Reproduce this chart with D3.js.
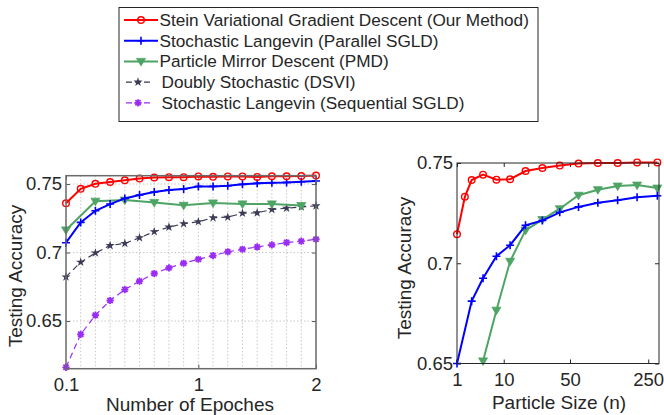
<!DOCTYPE html>
<html>
<head>
<meta charset="utf-8">
<script src="https://cdn.jsdelivr.net/npm/d3@7"></script>
<style>
body { margin: 0; background: #fff; }
text { font-family: "Liberation Sans", Arial, Helvetica, sans-serif; fill: #262626; }
</style>
</head>
<body>
<script>
// ---- left panel: testing accuracy vs. number of epoches ----
// x is the sample index, the axis is labelled 0.1 ... 1 ... 2
var epochIdx = [0, 1, 2, 3, 4, 5, 6, 7, 8, 9, 10, 11, 12, 13, 14, 15, 16, 17];
var epochTickIdx = [0, 9, 17];
var epochTickLabels = ["0.1", "1", "2"];
var svgdEpoch = [0.736, 0.7465, 0.7502, 0.7515, 0.7527, 0.754, 0.7548, 0.755, 0.755, 0.7556, 0.7553, 0.7556, 0.7556, 0.7552, 0.7557, 0.7557, 0.7558, 0.7562];
var psgldEpoch = [0.7072, 0.722, 0.7305, 0.7354, 0.7395, 0.742, 0.7442, 0.7456, 0.7464, 0.7483, 0.7483, 0.7488, 0.7498, 0.7505, 0.751, 0.7512, 0.7517, 0.7522];
var pmdEpochIdx = [0, 2, 4, 6, 8, 10, 12, 14, 16];
var pmdEpoch = [0.7165, 0.7375, 0.7383, 0.7366, 0.7345, 0.7362, 0.7355, 0.7355, 0.7343];
var dsviEpoch = [0.6822, 0.693, 0.6997, 0.7051, 0.7067, 0.7108, 0.7152, 0.7186, 0.721, 0.7225, 0.7254, 0.7258, 0.7287, 0.729, 0.7314, 0.7324, 0.7333, 0.7341];
var ssgldEpoch = [0.6162, 0.6403, 0.6543, 0.665, 0.673, 0.6791, 0.6847, 0.6888, 0.6922, 0.6951, 0.6978, 0.7005, 0.7024, 0.7041, 0.7056, 0.7073, 0.7083, 0.7097];
var accTicksLeft = [0.65, 0.7, 0.75];

// ---- right panel: testing accuracy vs. particle size ----
var particleSizes = [1, 2, 3, 5, 8, 12, 18, 27, 40, 60, 90, 135, 200, 300];
var sizeTicks = [1, 10, 50, 250];
var svgdSize = [0.7145, 0.7332, 0.7415, 0.7442, 0.7417, 0.7419, 0.746, 0.7475, 0.7487, 0.7497, 0.75, 0.75, 0.7503, 0.7503];
var psgldSizeN = [1, 3, 5, 8, 12, 18, 27, 40, 60, 90, 135, 200, 300];
var psgldSize = [0.65, 0.6811, 0.6925, 0.7035, 0.709, 0.7189, 0.7213, 0.7254, 0.7281, 0.7302, 0.7314, 0.7329, 0.7337];
var pmdSizeN = [5, 8, 12, 18, 27, 40, 60, 90, 135, 200, 300];
var pmdSize = [0.6513, 0.6766, 0.701, 0.7164, 0.7218, 0.7272, 0.7339, 0.7367, 0.7385, 0.739, 0.7375];
var accTicksRight = [0.65, 0.7, 0.75];

var legendNames = [
  "Stein Variational Gradient Descent (Our Method)",
  "Stochastic Langevin (Parallel SGLD)",
  "Particle Mirror Descent (PMD)",
  "Doubly Stochastic (DSVI)",
  "Stochastic Langevin (Sequential SGLD)"
];

var styles = [
  { color: "#ff0000", marker: "o", dash: null, width: 2 },
  { color: "#0000ff", marker: "+", dash: null, width: 2 },
  { color: "#4ea464", marker: "v", dash: null, width: 2 },
  { color: "#3b3b55", marker: "p", dash: "6,4", width: 1.2 },
  { color: "#9a2cf3", marker: "*", dash: "6,4", width: 1.2 }
];

var W = 664, H = 415;
var svg = d3.select("body").append("svg")
  .attr("width", W)
  .attr("height", H);

// draw one marker of a given type
function marker(g, type, x, y, color) {
  if (type === "o") {
    g.append("circle").attr("cx", x).attr("cy", y).attr("r", 3.3)
      .attr("fill", "none").attr("stroke", color).attr("stroke-width", 1.4);
  } else if (type === "+") {
    g.append("path").attr("d", "M" + (x - 4) + "," + y + "H" + (x + 4) + "M" + x + "," + (y - 4) + "V" + (y + 4))
      .attr("stroke", color).attr("stroke-width", 1.6).attr("fill", "none");
  } else if (type === "v") {
    g.append("path").attr("d", "M" + (x - 4.5) + "," + (y - 3) + "L" + (x + 4.5) + "," + (y - 3) + "L" + x + "," + (y + 4.5) + "Z")
      .attr("fill", color).attr("stroke", color).attr("stroke-width", 0.8);
  } else if (type === "p") {
    g.append("path").attr("d", d3.symbol(d3.symbolStar).size(26)())
      .attr("transform", "translate(" + x + "," + y + ")")
      .attr("fill", color);
  } else if (type === "*") {
    var s = 3.6, d = 2.6;
    g.append("path")
      .attr("d", "M" + (x - s) + "," + y + "H" + (x + s) + "M" + x + "," + (y - s) + "V" + (y + s) +
        "M" + (x - d) + "," + (y - d) + "L" + (x + d) + "," + (y + d) +
        "M" + (x - d) + "," + (y + d) + "L" + (x + d) + "," + (y - d))
      .attr("stroke", color).attr("stroke-width", 1.8).attr("fill", "none");
  }
}

function series(g, pts, st, x, y) {
  g.append("path")
    .datum(pts)
    .attr("d", d3.line().x(function(d){ return x(d[0]); }).y(function(d){ return y(d[1]); }))
    .attr("fill", "none")
    .attr("stroke", st.color)
    .attr("stroke-width", st.width)
    .attr("stroke-dasharray", st.dash);
  pts.forEach(function(d){ marker(g, st.marker, x(d[0]), y(d[1]), st.color); });
}

function zip(a, b) { return a.map(function(v, i){ return [v, b[i]]; }); }

// ---------- left panel ----------
var L = { left: 66, right: 316, top: 175.7, bottom: 368.7 };
var xL = d3.scaleLinear().domain([0, 17]).range([L.left, L.right]);
var yL = d3.scaleLinear().domain([0.6152, 0.7561]).range([L.bottom, L.top]);
var gL = svg.append("g");

// grid: dotted, vertical at every sample, horizontal at ticks
gL.selectAll(".vgrid").data(epochIdx.slice(1, -1)).enter().append("line")
  .attr("x1", xL).attr("x2", xL).attr("y1", L.top).attr("y2", L.bottom)
  .attr("stroke", "#c8c8c8").attr("stroke-width", 1).attr("stroke-dasharray", "1.5,2");
gL.selectAll(".hgrid").data(accTicksLeft).enter().append("line")
  .attr("x1", L.left).attr("x2", L.right).attr("y1", yL).attr("y2", yL)
  .attr("stroke", "#c8c8c8").attr("stroke-width", 1).attr("stroke-dasharray", "1.5,2");

var epochLabel = function(d){ return epochTickLabels[epochTickIdx.indexOf(d)]; };
var axBL = gL.append("g").attr("transform", "translate(0," + L.bottom + ")")
  .call(d3.axisBottom(xL).tickValues(epochTickIdx).tickFormat(epochLabel).tickSizeInner(-4).tickSizeOuter(0).tickPadding(9));
var axTL = gL.append("g").attr("transform", "translate(0," + L.top + ")")
  .call(d3.axisTop(xL).tickValues(epochTickIdx).tickFormat("").tickSizeInner(-4).tickSizeOuter(0));
var axLL = gL.append("g").attr("transform", "translate(" + L.left + ",0)")
  .call(d3.axisLeft(yL).tickValues(accTicksLeft).tickFormat(d3.format("")).tickSizeInner(-4).tickSizeOuter(0).tickPadding(4));
var axRL = gL.append("g").attr("transform", "translate(" + L.right + ",0)")
  .call(d3.axisRight(yL).tickValues(accTicksLeft).tickFormat("").tickSizeInner(-4).tickSizeOuter(0));
[axBL, axTL, axLL, axRL].forEach(function(a){
  a.select(".domain").remove();
  a.selectAll("line").attr("stroke", "#555");
  a.selectAll("text").style("font-size", "18.5px").attr("fill", "#262626").style("font-family", null);
});

series(gL, zip(epochIdx, ssgldEpoch), styles[4], xL, yL);
series(gL, zip(epochIdx, dsviEpoch), styles[3], xL, yL);
series(gL, zip(pmdEpochIdx, pmdEpoch), styles[2], xL, yL);
series(gL, zip(epochIdx, psgldEpoch), styles[1], xL, yL);
series(gL, zip(epochIdx, svgdEpoch), styles[0], xL, yL);

gL.append("rect").attr("x", L.left).attr("y", L.top)
  .attr("width", L.right - L.left).attr("height", L.bottom - L.top)
  .attr("fill", "none").attr("stroke", "#6a6a6a").attr("stroke-width", 1.5);

gL.append("text").attr("x", 190).attr("y", 410.5)
  .attr("text-anchor", "middle").style("font-size", "19px").text("Number of Epoches");
gL.append("text").attr("transform", "translate(22,276) rotate(-90)")
  .attr("text-anchor", "middle").style("font-size", "19px").text("Testing Accuracy");

// ---------- right panel ----------
var R = { left: 457, right: 659, top: 163, bottom: 363.5 };
var xR = d3.scaleSymlog().constant(5).domain([1, 310]).range([R.left, R.right]);
var yR = d3.scaleLinear().domain([0.65, 0.75]).range([R.bottom, R.top]);
var gR = svg.append("g");

var axBR = gR.append("g").attr("transform", "translate(0," + R.bottom + ")")
  .call(d3.axisBottom(xR).tickValues(sizeTicks).tickFormat(d3.format("d")).tickSizeInner(-4).tickSizeOuter(0).tickPadding(9));
var axTR = gR.append("g").attr("transform", "translate(0," + R.top + ")")
  .call(d3.axisTop(xR).tickValues(sizeTicks).tickFormat("").tickSizeInner(-4).tickSizeOuter(0));
var axLR = gR.append("g").attr("transform", "translate(" + R.left + ",0)")
  .call(d3.axisLeft(yR).tickValues(accTicksRight).tickFormat(d3.format("")).tickSizeInner(-4).tickSizeOuter(0).tickPadding(4));
var axRR = gR.append("g").attr("transform", "translate(" + R.right + ",0)")
  .call(d3.axisRight(yR).tickValues(accTicksRight).tickFormat("").tickSizeInner(-4).tickSizeOuter(0));
[axBR, axTR, axLR, axRR].forEach(function(a){
  a.select(".domain").remove();
  a.selectAll("line").attr("stroke", "#262626");
  a.selectAll("text").style("font-size", "18.5px").attr("fill", "#262626").style("font-family", null);
});

series(gR, zip(pmdSizeN, pmdSize), styles[2], xR, yR);
series(gR, zip(psgldSizeN, psgldSize), styles[1], xR, yR);
series(gR, zip(particleSizes, svgdSize), styles[0], xR, yR);

gR.append("rect").attr("x", R.left).attr("y", R.top)
  .attr("width", R.right - R.left).attr("height", R.bottom - R.top)
  .attr("fill", "none").attr("stroke", "#262626").attr("stroke-width", 1);

gR.append("text").attr("x", 559).attr("y", 409)
  .attr("text-anchor", "middle").style("font-size", "19px").text("Particle Size (n)");
gR.append("text").attr("transform", "translate(411,268) rotate(-90)")
  .attr("text-anchor", "middle").style("font-size", "19px").text("Testing Accuracy");

// ---------- legend ----------
var leg = svg.append("g");
leg.append("rect").attr("x", 119).attr("y", 7.5).attr("width", 419).attr("height", 114)
  .attr("fill", "#fff").attr("stroke", "#262626").attr("stroke-width", 1);
legendNames.forEach(function(name, i){
  var cy = 20 + i * 20.7;
  var st = styles[i];
  var x0 = 124, x1 = 158;
  if (st.dash) { x0 = 126; x1 = 150; }
  leg.append("line").attr("x1", x0).attr("x2", x1).attr("y1", cy).attr("y2", cy)
    .attr("stroke", st.color).attr("stroke-width", st.width).attr("stroke-dasharray", st.dash ? "6,3" : null);
  marker(leg, st.marker, (x0 + x1) / 2, cy, st.color);
  leg.append("text").attr("x", st.dash ? 161.5 : 159.5).attr("y", cy + 6)
    .style("font-size", "17.2px").attr("fill", "#000").text(name);
});
</script>
</body>
</html>
